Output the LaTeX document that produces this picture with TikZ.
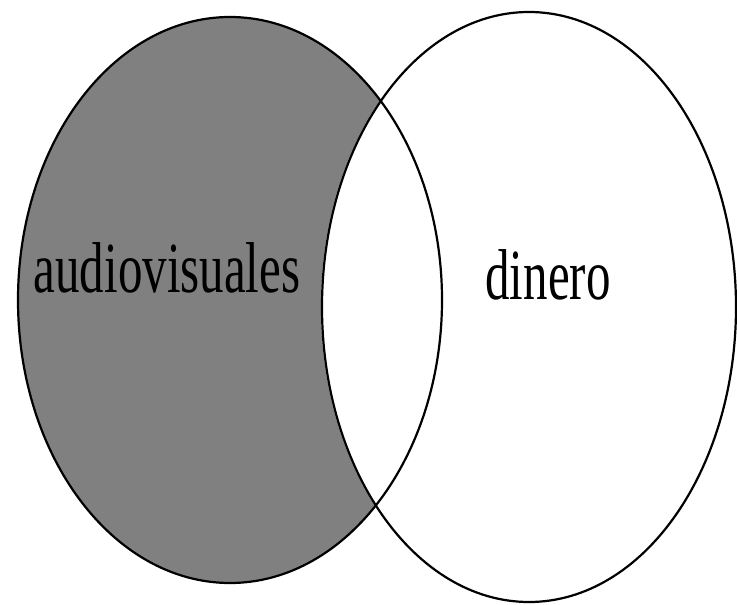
\documentclass[tikz,border=0pt]{standalone}
\usepackage{fontspec}
\usepackage{tikz}
\newfontfamily\vennfont[FakeStretch=0.68]{Liberation Serif}

\begin{document}
\begin{tikzpicture}[
    x=1pt, y=-1pt,
    set/.style={draw=black, line width=2.2pt},
    shade/.style={fill=gray},
    label/.style={anchor=base, inner sep=0pt, font=\vennfont\fontsize{72}{80}\selectfont}
]
\useasboundingbox (0,0) rectangle (737,605);

\coordinate (ca) at (230,300);
\coordinate (cd) at (529,307);

% left set without the right one
\begin{scope}
  \clip (ca) ellipse [x radius=212, y radius=283];
  \fill[shade] (ca) ellipse [x radius=212, y radius=283];
  \fill[white] (cd) ellipse [x radius=208, y radius=296];
\end{scope}

\draw[set] (ca) ellipse [x radius=212, y radius=283];
\draw[set] (cd) ellipse [x radius=207, y radius=295];

\node[label] (audio) at (167,292) {audiovisuales};
\node[label] (dinero) at (548,299) {dinero};

\end{tikzpicture}
\end{document}
